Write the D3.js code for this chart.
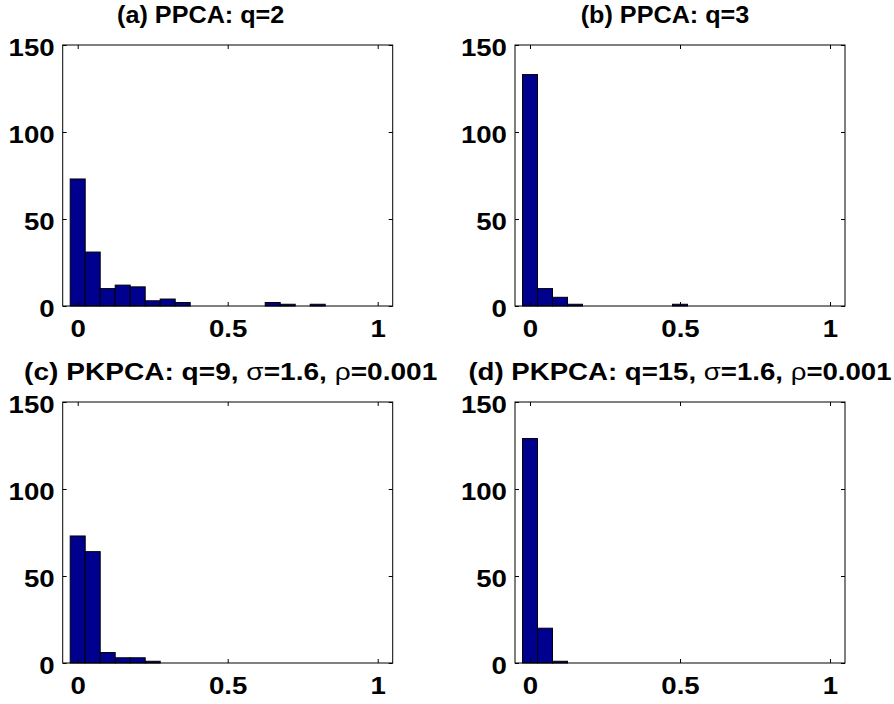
<!DOCTYPE html>
<html><head><meta charset="utf-8">
<script src="https://cdn.jsdelivr.net/npm/d3@7"></script>
<style>
body{margin:0;background:#fff}
text{font-family:"Liberation Sans",Arial,Helvetica,sans-serif;font-weight:bold;fill:#000}
</style>
</head><body>
<svg id="chart" width="894" height="704"></svg>
<script>
// ---- data ----
const binCenters = [0,0.05,0.1,0.15,0.2,0.25,0.3,0.35,0.4,0.45,0.5,0.55,0.6,0.65,0.7,0.75,0.8,0.85,0.9,0.95,1];
const countsA = [73,31,10,12,11,3,4,2,0,0,0,0,0,2,1,0,1,0,0,0,0];
const countsB = [133,10,5,1,0,0,0,0,0,0,1,0,0,0,0,0,0,0,0,0,0];
const countsC = [73,64,6,3,3,1,0,0,0,0,0,0,0,0,0,0,0,0,0,0,0];
const countsD = [129,20,1,0,0,0,0,0,0,0,0,0,0,0,0,0,0,0,0,0,0];
const titleA = [{t:"(a) PPCA: q=2"}];
const titleB = [{t:"(b) PPCA: q=3"}];
const titleC = [{t:"(c) PKPCA: q=9, "},{t:"σ",g:1},{t:"=1.6, "},{t:"ρ",g:1},{t:"=0.001"}];
const titleD = [{t:"(d) PKPCA: q=15, "},{t:"σ",g:1},{t:"=1.6, "},{t:"ρ",g:1},{t:"=0.001"}];
const xTicks = [0,0.5,1];
const xTickLabels = ["0","0.5","1"];
const yTicks = [0,50,100,150];
const yTickLabels = ["0","50","100","150"];
const binWidth = 0.05;

// ---- layout ----
const W = 330, H = 261, SX = 1.15;
const panels = [
  {counts:countsA, title:titleA, left:62.7, top:45, tcx:138, tsx:1.05},
  {counts:countsB, title:titleB, left:515, top:45, tcx:150, tsx:1.05},
  {counts:countsC, title:titleC, left:62.7, top:402, tcx:168, tsx:1.17},
  {counts:countsD, title:titleD, left:515, top:402, tcx:165, tsx:1.15}
];
const svg = d3.select("#chart");
const x = d3.scaleLinear().domain([-0.05,1.05]).range([0,W]);
const y = d3.scaleLinear().domain([0,150]).range([H,0]);

panels.forEach(p=>{
  const g = svg.append("g").attr("transform",`translate(${p.left},${p.top})`);
  const data = binCenters.map((c,i)=>({c, n:p.counts[i]})).filter(d=>d.n>0);
  g.selectAll("rect.bar").data(data).enter().append("rect")
    .attr("class","bar")
    .attr("x",d=>x(d.c-binWidth/2))
    .attr("width",d=>x(d.c+binWidth/2)-x(d.c-binWidth/2))
    .attr("y",d=>y(d.n))
    .attr("height",d=>y(0)-y(d.n))
    .attr("fill","#00008f").attr("stroke","#000").attr("stroke-width",1);

  const gb = g.append("g").attr("transform",`translate(0,${H})`)
    .call(d3.axisBottom(x).tickValues(xTicks).tickFormat((d,i)=>xTickLabels[i]).tickSizeInner(-4).tickSizeOuter(0).tickPadding(14));
  gb.selectAll("text").attr("transform",`scale(${SX},1)`).style("font-size","24px");
  g.append("g").call(d3.axisTop(x).tickValues(xTicks).tickFormat("").tickSizeInner(-4).tickSizeOuter(0));
  const gl = g.append("g")
    .call(d3.axisLeft(y).tickValues(yTicks).tickFormat((d,i)=>yTickLabels[i]).tickSizeInner(-4).tickSizeOuter(0).tickPadding(7));
  gl.selectAll("text").attr("transform",`scale(${SX},1)`).attr("dy","0.42em").style("font-size","24px");
  g.append("g").attr("transform",`translate(${W},0)`)
    .call(d3.axisRight(y).tickValues(yTicks).tickFormat("").tickSizeInner(-4).tickSizeOuter(0));
  g.selectAll(".domain").remove();
  g.selectAll(".tick line").attr("stroke","#000");
  g.selectAll(".tick text").attr("font-family",null).attr("font-size",null);
  g.append("rect").attr("x",0).attr("y",0).attr("width",W).attr("height",H)
    .attr("fill","none").attr("stroke","#000").attr("stroke-width",1);
  const tg = g.append("g").attr("transform",`translate(${p.tcx},-22) scale(${p.tsx},1)`);
  const tt = tg.append("text").attr("text-anchor","middle").style("font-size","24px");
  p.title.forEach(s=>{
    tt.append("tspan").text(s.t).style("font-weight", s.g ? "normal" : "bold");
  });
});
</script>
</body></html>
